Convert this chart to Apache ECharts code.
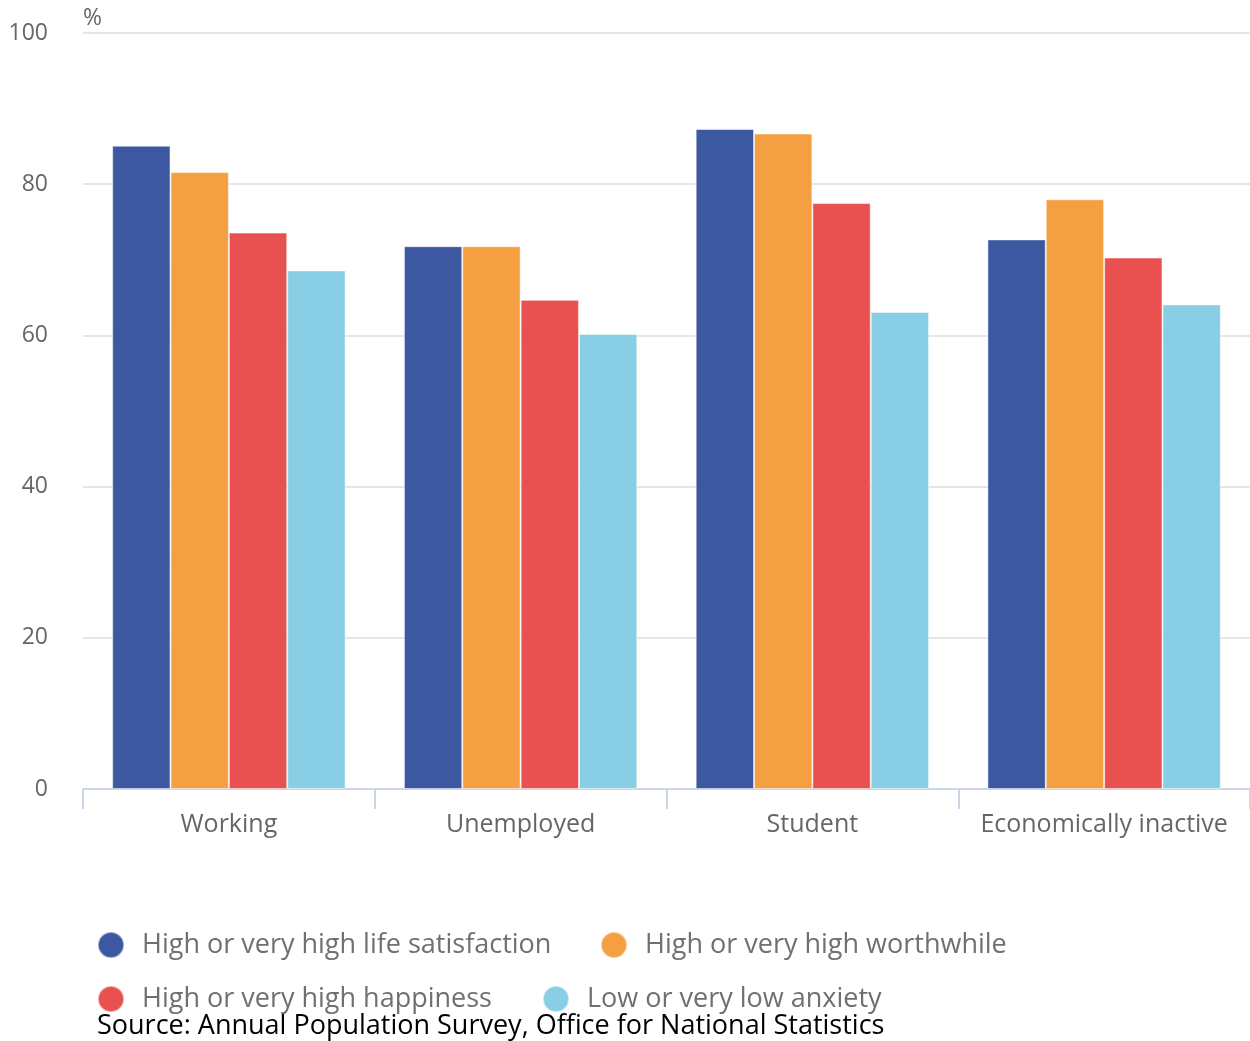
<!DOCTYPE html>
<html><head><meta charset="utf-8">
<script src="https://cdn.jsdelivr.net/npm/echarts@6/dist/echarts.min.js"></script>
<style>html,body{margin:0;padding:0;background:#fff}#c{width:1250px;height:1041px}</style>
</head><body><div id="c"></div>
<script>
const categories = ['Working', 'Unemployed', 'Student', 'Economically inactive'];
const seriesNames = ['High or very high life satisfaction', 'High or very high worthwhile', 'High or very high happiness', 'Low or very low anxiety'];
const lifeSatisfaction = [85.1, 71.8, 87.3, 72.7];
const worthwhile = [81.6, 71.8, 86.7, 78.0];
const happiness = [73.6, 64.7, 77.5, 70.3];
const anxiety = [68.6, 60.2, 63.1, 64.1];
const yTicks = [0, 20, 40, 60, 80, 100];
const colors = ['#3c58a1', '#f59f43', '#e95151', '#88cfe5'];
const FONT = '"Open Sans", "Noto Sans", sans-serif';

const values = [lifeSatisfaction, worthwhile, happiness, anxiety];
const legendPos = [[97, 925], [600, 925], [97, 979], [542, 979]];

const chart = echarts.init(document.getElementById('c'));
chart.setOption({
  animation: false,
  color: colors,
  textStyle: { fontFamily: FONT },
  grid: { left: 83, right: 0, top: 33, bottom: 252, containLabel: false },
  legend: seriesNames.map((n, i) => ({
    data: [n], left: legendPos[i][0], top: legendPos[i][1], orient: 'horizontal', padding: 0,
    icon: 'circle', itemWidth: 26, itemHeight: 26, selectedMode: false,
    textStyle: { fontFamily: FONT, fontSize: 27, color: '#707070', lineHeight: 36, padding: [4, 0, 0, 13] }
  })),
  xAxis: {
    type: 'category', data: categories,
    axisLine: { lineStyle: { color: '#ccd6eb', width: 2 } },
    axisTick: { show: true, interval: 0, length: 20, lineStyle: { color: '#ccd6eb', width: 2 } },
    axisLabel: { interval: 0, fontFamily: FONT, fontSize: 25, color: '#666666', margin: 23 }
  },
  yAxis: {
    type: 'value', min: 0, max: 100, interval: 20,
    name: '%', nameLocation: 'end', nameGap: 3,
    nameTextStyle: { fontFamily: FONT, fontSize: 23, color: '#666666', align: 'left', verticalAlign: 'bottom' },
    axisLine: { show: false }, axisTick: { show: false },
    axisLabel: { fontFamily: FONT, fontSize: 23, color: '#666666', margin: 35,
      formatter: v => yTicks.includes(v) ? String(v) : '' },
    splitLine: { lineStyle: { color: '#e6e6e6', width: 2 } }
  },
  series: seriesNames.map((n, i) => ({
    name: n, type: 'bar', data: values[i],
    barGap: '0%', barCategoryGap: '20%',
    itemStyle: { color: colors[i], borderColor: 'rgba(255,255,255,0.5)', borderWidth: 1 }
  })),
  graphic: [{
    type: 'text', left: 97, top: 1013,
    style: { text: 'Source: Annual Population Survey, Office for National Statistics', fontFamily: FONT, fontSize: 27, fill: '#000' }
  }]
});
</script></body></html>
